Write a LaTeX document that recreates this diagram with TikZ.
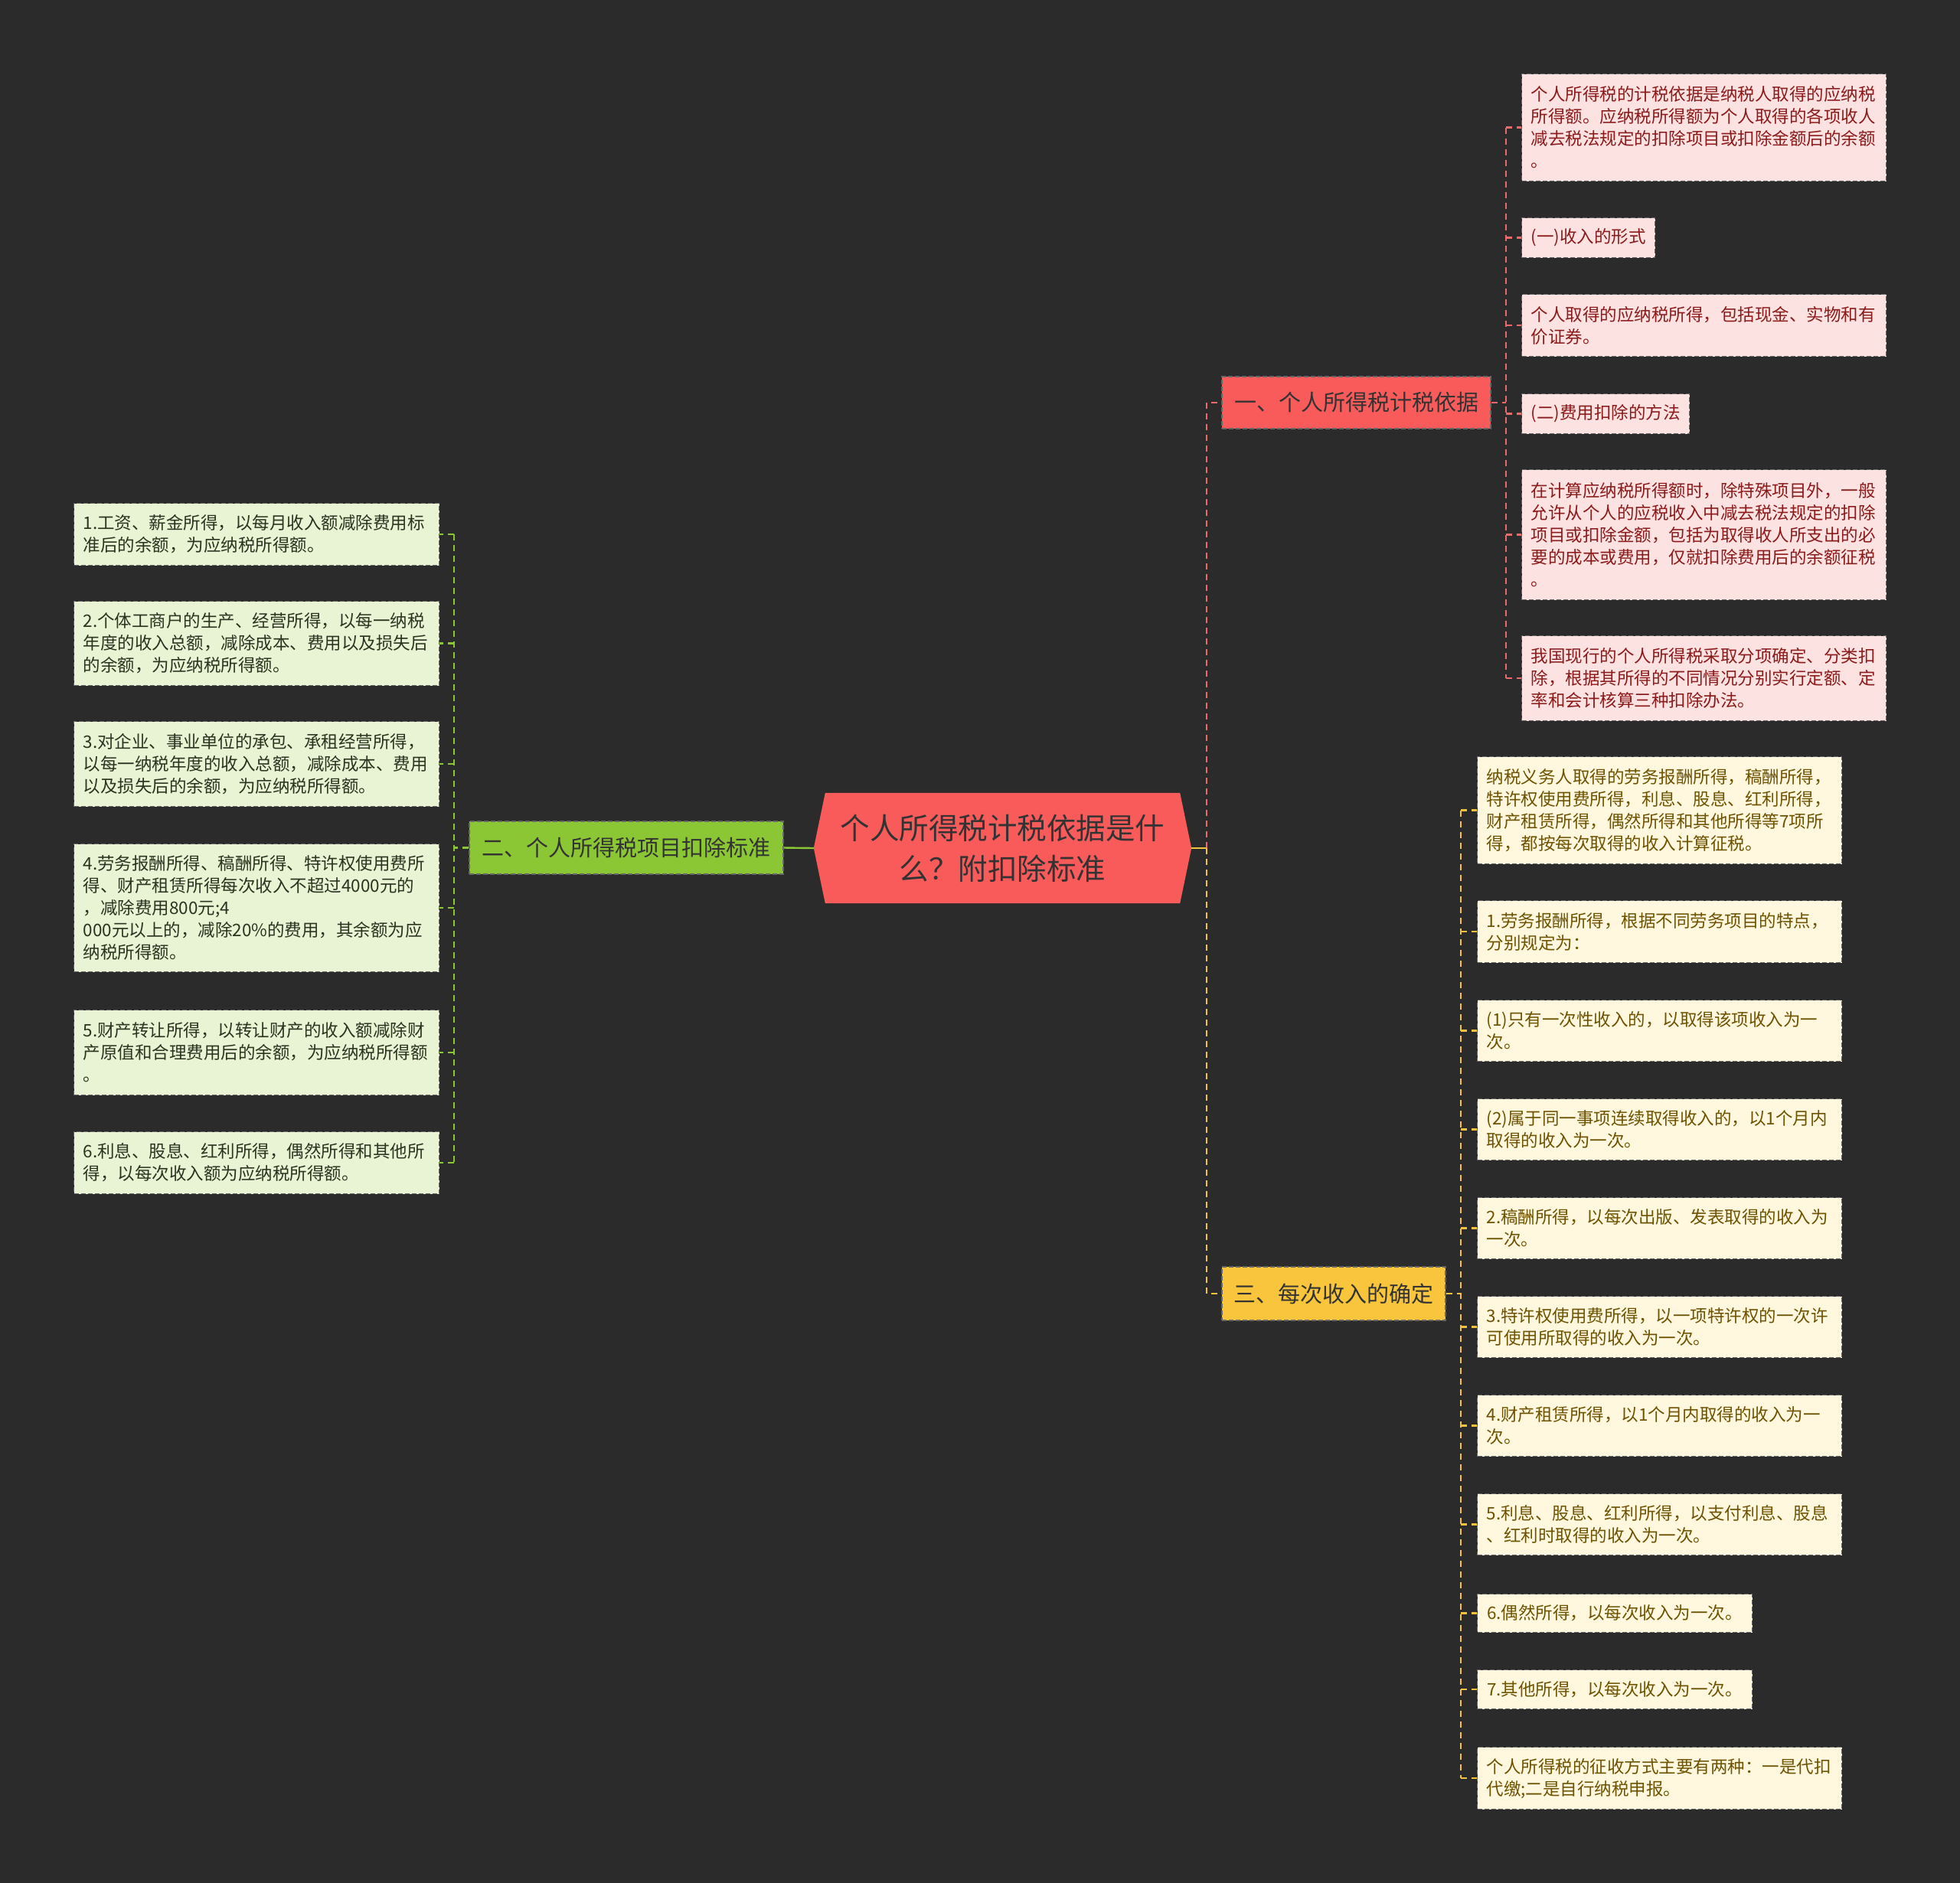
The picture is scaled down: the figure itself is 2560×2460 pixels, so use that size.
\documentclass[tikz,border=0pt]{standalone}
\usepackage{fontspec}
\setmainfont{Noto Sans CJK SC}
\usetikzlibrary{backgrounds}
\definecolor{bgc}{HTML}{2B2B2B}
\definecolor{redF}{HTML}{F95B5B}
\definecolor{greenF}{HTML}{8BC634}
\definecolor{yellowF}{HTML}{F8C53C}
\definecolor{pinkF}{HTML}{FDE2E2}
\definecolor{pinkT}{HTML}{8B1A1A}
\definecolor{lgreenF}{HTML}{E9F4D4}
\definecolor{lgreenT}{HTML}{2A3320}
\definecolor{lyellowF}{HTML}{FFF8DE}
\definecolor{lyellowT}{HTML}{6E5200}
\definecolor{darkT}{HTML}{333333}
\definecolor{redL}{HTML}{E86C6C}
\definecolor{greenL}{HTML}{8BC634}
\definecolor{yellowL}{HTML}{F3C340}
\tikzset{
  boxborder/.style={draw=black!60, line width=1.2pt, dash pattern=on 6pt off 3pt},
  leaf/.style={rectangle, anchor=north west, align=left, inner xsep=12pt, inner ysep=0pt, boxborder,
    font=\fontsize{22.5pt}{29pt}\selectfont},
  pinkleaf/.style={leaf, fill=pinkF, text=pinkT},
  greenleaf/.style={leaf, fill=lgreenF, text=lgreenT},
  yellowleaf/.style={leaf, fill=lyellowF, text=lyellowT},
  branchbox/.style={rectangle, inner sep=0pt, boxborder, text=darkT,
    font=\fontsize{29pt}{35pt}\selectfont},
  conn/.style={line width=2.4pt, dash pattern=on 8pt off 6pt},
  redconn/.style={conn, draw=redL},
  greenconn/.style={conn, draw=greenL},
  yellowconn/.style={conn, draw=yellowL},
}
\begin{document}
\begin{tikzpicture}[x=1pt,y=-1pt]
\useasboundingbox (0,0) rectangle (2560,2460);

% central node
\node[rectangle, inner sep=0pt, minimum width=493pt, minimum height=144pt, align=center,
  text=darkT, font=\fontsize{38.5pt}{53pt}\selectfont] (C) at (1309.5,1108)
  {个人所得税计税依据是什\\么？附扣除标准};

\begin{scope}[on background layer]
  \fill[bgc] (0,0) rectangle (2560,2460);
  \fill[redF] (C.west) -- ([xshift=15pt]C.north west) -- ([xshift=-15pt]C.north east)
    -- (C.east) -- ([xshift=-15pt]C.south east) -- ([xshift=15pt]C.south west) -- cycle;
\end{scope}

% branches
\node[branchbox, fill=redF, minimum width=351pt, minimum height=68pt] (B1) at (1771.5,526) {一、个人所得税计税依据};
\node[branchbox, fill=greenF, minimum width=410pt, minimum height=69pt] (B2) at (818,1107.5) {二、个人所得税项目扣除标准};
\node[branchbox, fill=yellowF, minimum width=292pt, minimum height=70pt] (B3) at (1742,1690) {三、每次收入的确定};

% red leaves
\node[pinkleaf, text width=452pt, minimum height=140pt] (R1) at (1987,96)
  {个人所得税的计税依据是纳税人取得的应纳税\\所得额。应纳税所得额为个人取得的各项收人\\减去税法规定的扣除项目或扣除金额后的余额\\。};
\node[pinkleaf, minimum width=173pt, minimum height=52pt] (R2) at (1987,284) {(一)收入的形式};
\node[pinkleaf, text width=452pt, minimum height=81pt] (R3) at (1987,384)
  {个人取得的应纳税所得，包括现金、实物和有\\价证券。};
\node[pinkleaf, minimum width=219pt, minimum height=52pt] (R4) at (1987,514) {(二)费用扣除的方法};
\node[pinkleaf, text width=452pt, minimum height=170pt] (R5) at (1987,613)
  {在计算应纳税所得额时，除特殊项目外，一般\\允许从个人的应税收入中减去税法规定的扣除\\项目或扣除金额，包括为取得收人所支出的必\\要的成本或费用，仅就扣除费用后的余额征税\\。};
\node[pinkleaf, text width=452pt, minimum height=111pt] (R6) at (1987,830)
  {我国现行的个人所得税采取分项确定、分类扣\\除，根据其所得的不同情况分别实行定额、定\\率和会计核算三种扣除办法。};

% green leaves
\node[greenleaf, text width=453pt, minimum height=81pt] (G1) at (96,657)
  {1.工资、薪金所得，以每月收入额减除费用标\\准后的余额，为应纳税所得额。};
\node[greenleaf, text width=453pt, minimum height=110pt] (G2) at (96,785)
  {2.个体工商户的生产、经营所得，以每一纳税\\年度的收入总额，减除成本、费用以及损失后\\的余额，为应纳税所得额。};
\node[greenleaf, text width=453pt, minimum height=111pt] (G3) at (96,942)
  {3.对企业、事业单位的承包、承租经营所得，\\以每一纳税年度的收入总额，减除成本、费用\\以及损失后的余额，为应纳税所得额。};
\node[greenleaf, text width=453pt, minimum height=167pt] (G4) at (96,1102)
  {4.劳务报酬所得、稿酬所得、特许权使用费所\\得、财产租赁所得每次收入不超过4000元的\\，减除费用800元;4\\000元以上的，减除20\%的费用，其余额为应\\纳税所得额。};
\node[greenleaf, text width=453pt, minimum height=111pt] (G5) at (96,1319)
  {5.财产转让所得，以转让财产的收入额减除财\\产原值和合理费用后的余额，为应纳税所得额\\。};
\node[greenleaf, text width=453pt, minimum height=81pt] (G6) at (96,1478)
  {6.利息、股息、红利所得，偶然所得和其他所\\得，以每次收入额为应纳税所得额。};

% yellow leaves
\node[yellowleaf, text width=452pt, minimum height=140pt] (Y1) at (1929,988)
  {纳税义务人取得的劳务报酬所得，稿酬所得，\\特许权使用费所得，利息、股息、红利所得，\\财产租赁所得，偶然所得和其他所得等7项所\\得，都按每次取得的收入计算征税。};
\node[yellowleaf, text width=452pt, minimum height=81pt] (Y2) at (1929,1176)
  {1.劳务报酬所得，根据不同劳务项目的特点，\\分别规定为：};
\node[yellowleaf, text width=452pt, minimum height=80pt] (Y3) at (1929,1306)
  {(1)只有一次性收入的，以取得该项收入为一\\次。};
\node[yellowleaf, text width=452pt, minimum height=80pt] (Y4) at (1929,1435)
  {(2)属于同一事项连续取得收入的，以1个月内\\取得的收入为一次。};
\node[yellowleaf, text width=452pt, minimum height=80pt] (Y5) at (1929,1564)
  {2.稿酬所得，以每次出版、发表取得的收入为\\一次。};
\node[yellowleaf, text width=452pt, minimum height=80pt] (Y6) at (1929,1693)
  {3.特许权使用费所得，以一项特许权的一次许\\可使用所取得的收入为一次。};
\node[yellowleaf, text width=452pt, minimum height=80pt] (Y7) at (1929,1822)
  {4.财产租赁所得，以1个月内取得的收入为一\\次。};
\node[yellowleaf, text width=452pt, minimum height=80pt] (Y8) at (1929,1951)
  {5.利息、股息、红利所得，以支付利息、股息\\、红利时取得的收入为一次。};
\node[yellowleaf, minimum width=359pt, minimum height=50pt] (Y9) at (1929,2082)
  {6.偶然所得，以每次收入为一次。};
\node[yellowleaf, minimum width=359pt, minimum height=51pt] (Y10) at (1929,2181)
  {7.其他所得，以每次收入为一次。};
\node[yellowleaf, text width=452pt, minimum height=81pt] (Y11) at (1929,2282)
  {个人所得税的征收方式主要有两种：一是代扣\\代缴;二是自行纳税申报。};

% junction coordinates
\coordinate (vc) at (1576,1108);
\coordinate (vr) at (1967,0);
\coordinate (vg) at (593,0);
\coordinate (vy) at (1908,0);

% centre connectors
\draw[line width=2.4pt, draw=yellowL] (C.east) -- (vc);
\draw[line width=2.4pt, draw=greenL] (C.west) -- (B2.east);
\draw[redconn] (vc) -- (vc |- B1.west) -- (B1.west);
\draw[yellowconn] (vc) -- (vc |- B3.west) -- (B3.west);

% red branch
\draw[redconn] (B1.east) -- (vr |- B1.east);
\draw[redconn] (vr |- R1.west) -- (vr |- R6.west);
\foreach \n in {R1,R2,R3,R4,R5,R6}{\draw[redconn] (vr |- \n.west) -- (\n.west);}

% green branch
\draw[greenconn] (B2.west) -- (vg |- B2.west);
\draw[greenconn] (vg |- G1.east) -- (vg |- G6.east);
\foreach \n in {G1,G2,G3,G4,G5,G6}{\draw[greenconn] (vg |- \n.east) -- (\n.east);}

% yellow branch
\draw[yellowconn] (B3.east) -- (vy |- B3.east);
\draw[yellowconn] (vy |- Y1.west) -- (vy |- Y11.west);
\foreach \n in {Y1,Y2,Y3,Y4,Y5,Y6,Y7,Y8,Y9,Y10,Y11}{\draw[yellowconn] (vy |- \n.west) -- (\n.west);}
\end{tikzpicture}
\end{document}
